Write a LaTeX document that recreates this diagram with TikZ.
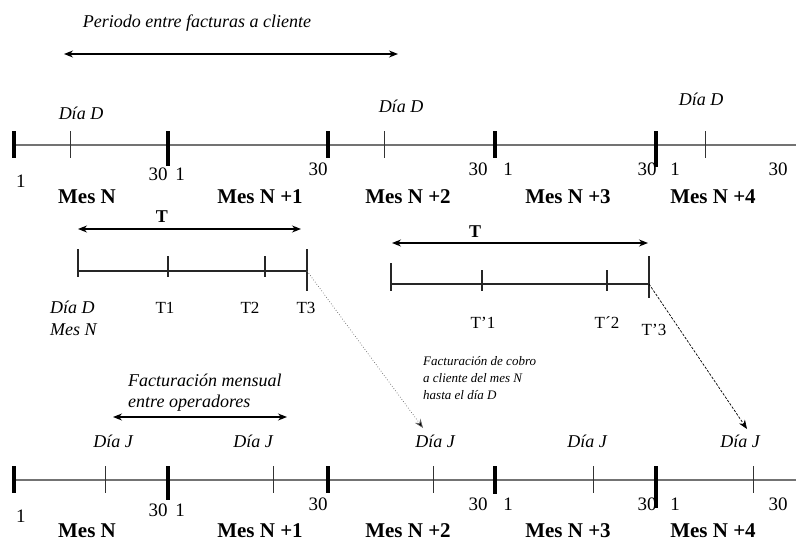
\documentclass[tikz,border=0pt]{standalone}
\usepackage{fontspec}
\setmainfont{Liberation Serif}
\usetikzlibrary{arrows.meta}
\begin{document}
\begin{tikzpicture}[x=1pt,y=-1pt,
  axis/.style={draw=black!55, line width=1.6pt},
  majortick/.style={draw=black, line width=3.6pt},
  minortick/.style={draw=black!80, line width=0.9pt},
  seg/.style={draw=black!85, line width=1.2pt},
  lbl/.style={font=\fontsize{19}{21}\selectfont, inner sep=0pt, anchor=base},
  tlbl/.style={lbl, font=\fontsize{17}{19}\selectfont},
  ilbl/.style={lbl, font=\fontsize{18}{20}\selectfont\itshape},
  blbl/.style={lbl, font=\fontsize{21}{23}\selectfont\bfseries},
  tbl/.style={lbl, font=\fontsize{18}{20}\selectfont\bfseries},
  span/.style={draw=black, line width=1.2pt, {Stealth[length=9pt,width=7pt]}-{Stealth[length=9pt,width=7pt]}},
  note/.style={font=\fontsize{13}{17}\selectfont\itshape, inner sep=0pt, align=left, anchor=base west}
]
\useasboundingbox (0,0) rectangle (796,541);

% ---------- top timeline ----------
\coordinate (tl) at (14,145); \coordinate (tr) at (796,145);
\draw[axis] (tl) -- (tr);
\foreach \x/\b in {14/158,168/166,328/158,495/158,656/167}
  \draw[majortick] (\x,131) -- (\x,\b);
\foreach \x in {70,384,705}
  \draw[minortick] (\x,131) -- (\x,158);

\node[ilbl] (title) at (197,27) {Periodo entre facturas a cliente};
\coordinate (pa) at (64,54); \coordinate (pb) at (398,54);
\draw[span] (pa) -- (pb);

\node[ilbl] (dd1) at (81,119) {Día D};
\node[ilbl] (dd2) at (401,112) {Día D};
\node[ilbl] (dd3) at (701,105) {Día D};

\foreach \t/\x/\y [count=\i] in {1/21/187,30/158/180,1/180/180,30/318/175,30/478/175,1/508/175,30/647/175,1/675/175,30/778/175}
  \node[lbl] (tn\i) at (\x,\y) {\t};

\node[blbl] (tm0) at (87,203) {Mes N};
\node[blbl] (tm1) at (260,203) {Mes N +1};
\node[blbl] (tm2) at (408,203) {Mes N +2};
\node[blbl] (tm3) at (568,203) {Mes N +3};
\node[blbl] (tm4) at (713,203) {Mes N +4};

% ---------- middle left: T ----------
\node[tbl] (T1lab) at (162,222) {T};
\coordinate (ma) at (78,229); \coordinate (mb) at (301,229);
\draw[span] (ma) -- (mb);
\coordinate (s0) at (78,271); \coordinate (s3) at (307,271);
\draw[seg] (s0) -- (s3);
\draw[seg] (78,249) -- (78,277);
\draw[seg] (168,256) -- (168,277);
\draw[seg] (265,256) -- (265,277);
\draw[seg] (307,249) -- (307,291);
\node[ilbl, anchor=base west] (ddm) at (50,313) {Día D};
\node[ilbl, anchor=base west] (mnm) at (50,335) {Mes N};
\node[tlbl] (t1) at (165,313) {T1};
\node[tlbl] (t2) at (250,313) {T2};
\node[tlbl] (t3) at (306,313) {T3};

% ---------- middle right: T' ----------
\node[tbl] (T2lab) at (475,237) {T};
\coordinate (na) at (392,243); \coordinate (nb) at (648,243);
\draw[span] (na) -- (nb);
\coordinate (r0) at (391,284); \coordinate (r3) at (649,284);
\draw[seg] (r0) -- (r3);
\draw[seg] (391,263) -- (391,291);
\draw[seg] (482,270) -- (482,291);
\draw[seg] (607,270) -- (607,291);
\draw[seg] (649,256) -- (649,298);
\node[tlbl] (tp1) at (483,328) {T’1};
\node[tlbl] (tp2) at (607,328) {T´2};
\node[tlbl] (tp3) at (654,335) {T’3};

% ---------- note and connectors ----------
\node[note] (nt) at (423,399) {Facturación de cobro\\a cliente del mes N\\hasta el día D};
\coordinate (c1) at (423,428);
\coordinate (c2) at (747,429);
\draw[black!60, line width=0.7pt, dotted, -{Stealth[length=9pt,width=7pt,fill=black]}] (s3) -- (c1);
\draw[black, line width=0.7pt, dash pattern=on 2.5pt off 1.5pt, -{Stealth[length=9pt,width=7pt]}] (r3) -- (c2);

% ---------- bottom ----------
\node[ilbl, anchor=base west] (fm1) at (128,386) {Facturación mensual};
\node[ilbl, anchor=base west] (fm2) at (128,407) {entre operadores};
\coordinate (ba) at (113,417); \coordinate (bb) at (287,417);
\draw[span] (ba) -- (bb);

\foreach \x [count=\i] in {113,253,435,587,740}
  \node[ilbl] (dj\i) at (\x,447) {Día J};

\coordinate (bl) at (14,480); \coordinate (br) at (796,480);
\draw[axis] (bl) -- (br);
\foreach \x/\b in {14/493,168/500,328/493,495/494,656/508}
  \draw[majortick] (\x,466) -- (\x,\b);
\foreach \x in {105,273,433,593,753}
  \draw[minortick] (\x,466) -- (\x,493);

\foreach \t/\x/\y [count=\i] in {1/21/522,30/158/516,1/180/516,30/318/510,30/478/510,1/508/510,30/647/510,1/675/510,30/778/510}
  \node[lbl] (bn\i) at (\x,\y) {\t};

\node[blbl] (bm0) at (87,537) {Mes N};
\node[blbl] (bm1) at (260,537) {Mes N +1};
\node[blbl] (bm2) at (408,537) {Mes N +2};
\node[blbl] (bm3) at (568,537) {Mes N +3};
\node[blbl] (bm4) at (713,537) {Mes N +4};
\end{tikzpicture}
\end{document}
